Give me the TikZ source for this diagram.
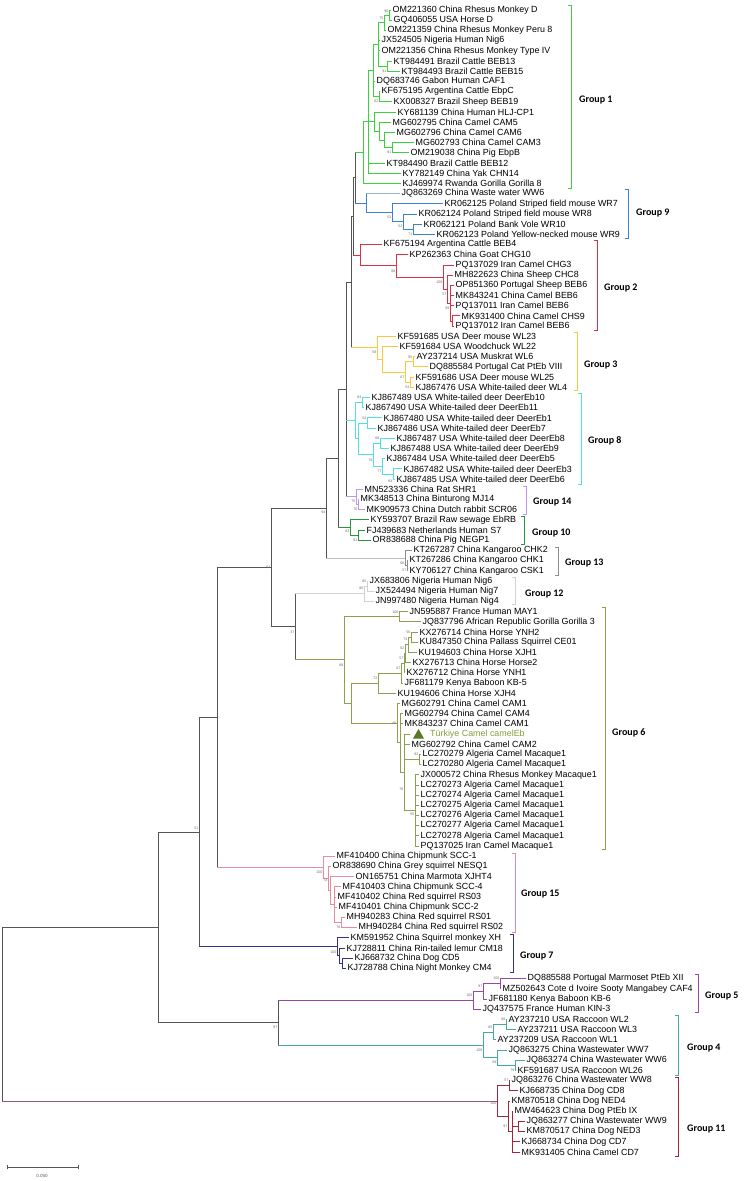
\documentclass[tikz,border=0pt]{standalone}
\usepackage{fontspec}
\setmainfont{Liberation Sans}
\newfontfamily\grpfont{Carlito}
\usetikzlibrary{calc}
\definecolor{cA}{RGB}{60,210,60}
\definecolor{cI}{RGB}{60,130,210}
\definecolor{cIl}{RGB}{150,180,210}
\definecolor{cB}{RGB}{215,50,70}
\definecolor{cC}{RGB}{250,200,60}
\definecolor{cH}{RGB}{80,225,225}
\definecolor{cN}{RGB}{190,150,240}
\definecolor{cJ}{RGB}{40,150,60}
\definecolor{cM}{RGB}{140,140,140}
\definecolor{cMl}{RGB}{190,190,190}
\definecolor{cL}{RGB}{210,210,210}
\definecolor{cF}{RGB}{140,160,80}
\definecolor{cO}{RGB}{230,140,160}
\definecolor{cG}{RGB}{50,50,140}
\definecolor{cE}{RGB}{150,70,170}
\definecolor{cD}{RGB}{70,170,160}
\definecolor{cK}{RGB}{160,40,60}
\definecolor{cKr}{RGB}{150,90,110}
\definecolor{bbc}{RGB}{85,85,85}
\definecolor{bsc}{RGB}{110,110,110}
\definecolor{tric}{RGB}{90,120,40}
\definecolor{tkc}{RGB}{130,160,60}
\tikzset{
  tree/.style={line width=0.8pt, line cap=rect},
  leaf/.style={anchor=west, inner sep=0pt, xshift=1.5pt, font=\fontsize{8.9}{10}\selectfont, text=black},
  bsl/.style={anchor=east, inner sep=0pt, font=\fontsize{3.6}{4}\selectfont, text=bsc},
  grp/.style={anchor=west, inner sep=0pt, font=\grpfont\bfseries\fontsize{10}{12}\selectfont},
}
\newcommand\lf[3]{\coordinate (l#1) at (#2,{10+(#1-1)*10.196}); \node[leaf] (t#1) at (l#1) {#3};}
\newcommand\cln[5]{\path let \p1=(#4), \p2=(#5) in (#2pt,{(\y1+\y2)*0.5}) coordinate (#1); \draw[tree,#3] (#1 |- #4) -- (#1 |- #5);}
\newcommand\ed[3]{\draw[tree,#1] (#2 |- #3) -- (#3);}
\newcommand\cl[5]{\cln{#1}{#2}{#3}{#4}{#5}\ed{#3}{#1}{#4}\ed{#3}{#1}{#5}}
\newcommand\clm[6]{\cl{#1}{#2}{#3}{#4}{#5}\foreach \cc in {#6}{\ed{#3}{#1}{\cc}}}
\newcommand\bs[3]{\node[bsl] (bs#1) at ([xshift=-0.5pt,yshift={-1pt*(#2)}]#1) {#3};}
\newcommand\brk[5]{\draw[tree,#1] (#2-3,#3) coordinate (bt#5) -- (#2,#3) -- (#2,#4) -- (#2-3,#4) coordinate (bb#5);}
\begin{document}
\begin{tikzpicture}[x=1pt,y=-1pt]
\fill[white] (0,0) rectangle (744,1181);
\useasboundingbox (0,0) rectangle (744,1181);
% leaves
\lf{1}{391}{OM221360 China Rhesus Monkey D}
\lf{2}{392}{GQ406055 USA Horse D}
\lf{3}{386}{OM221359 China Rhesus Monkey Peru 8}
\lf{4}{380}{JX524505 Nigeria Human Nig6}
\lf{5}{380}{OM221356 China Rhesus Monkey Type IV}
\lf{6}{392}{KT984491 Brazil Cattle BEB13}
\lf{7}{400}{KT984493 Brazil Cattle BEB15}
\lf{8}{375}{DQ683746 Gabon Human CAF1}
\lf{9}{380}{KF675195 Argentina Cattle EbpC}
\lf{10}{392}{KX008327 Brazil Sheep BEB19}
\lf{11}{396}{KY681139 China Human HLJ-CP1}
\lf{12}{391}{MG602795 China Camel CAM5}
\lf{13}{395}{MG602796 China Camel CAM6}
\lf{14}{414}{MG602793 China Camel CAM3}
\lf{15}{409}{OM219038 China Pig EbpB}
\lf{16}{385}{KT984490 Brazil Cattle BEB12}
\lf{17}{401}{KY782149 China Yak CHN14}
\lf{18}{401}{KJ469974 Rwanda Gorilla Gorilla 8}
\lf{19}{400}{JQ863269 China Waste water WW6}
\lf{20}{443}{KR062125 Poland Striped field mouse WR7}
\lf{21}{417}{KR062124 Poland Striped field mouse WR8}
\lf{22}{422}{KR062121 Poland Bank Vole WR10}
\lf{23}{435}{KR062123 Poland Yellow-necked mouse WR9}
\lf{24}{382}{KF675194 Argentina Cattle BEB4}
\lf{25}{408}{KP262363 China Goat CHG10}
\lf{26}{454}{PQ137029 Iran Camel CHG3}
\lf{27}{453}{MH822623 China Sheep CHC8}
\lf{28}{454}{OP851360 Portugal Sheep BEB6}
\lf{29}{454}{MK843241 China Camel BEB6}
\lf{30}{454}{PQ137011 Iran Camel BEB6}
\lf{31}{460}{MK931400 China Camel CHS9}
\lf{32}{454}{PQ137012 Iran Camel BEB6}
\lf{33}{396}{KF591685 USA Deer mouse WL23}
\lf{34}{398}{KF591684 USA Woodchuck WL22}
\lf{35}{415}{AY237214 USA Muskrat WL6}
\lf{36}{428}{DQ885584 Portugal Cat PtEb VIII}
\lf{37}{414}{KF591686 USA Deer mouse WL25}
\lf{38}{414}{KJ867476 USA White-tailed deer WL4}
\lf{39}{370}{KJ867489 USA White-tailed deer DeerEb10}
\lf{40}{364}{KJ867490 USA White-tailed deer DeerEb11}
\lf{41}{382}{KJ867480 USA White-tailed deer DeerEb1}
\lf{42}{376}{KJ867486 USA White-tailed deer DeerEb7}
\lf{43}{395}{KJ867487 USA White-tailed deer DeerEb8}
\lf{44}{389}{KJ867488 USA White-tailed deer DeerEb9}
\lf{45}{385}{KJ867484 USA White-tailed deer DeerEb5}
\lf{46}{402}{KJ867482 USA White-tailed deer DeerEb3}
\lf{47}{395}{KJ867485 USA White-tailed deer DeerEb6}
\lf{48}{363}{MN523336 China Rat SHR1}
\lf{49}{359}{MK348513 China Binturong MJ14}
\lf{50}{365}{MK909573 China Dutch rabbit SCR06}
\lf{51}{369}{KY593707 Brazil Raw sewage EbRB}
\lf{52}{365}{FJ439683 Netherlands Human S7}
\lf{53}{371}{OR838688 China Pig NEGP1}
\lf{54}{412}{KT267287 China Kangaroo CHK2}
\lf{55}{408}{KT267286 China Kangaroo CHK1}
\lf{56}{408}{KY706127 China Kangaroo CSK1}
\lf{57}{368}{JX683806 Nigeria Human Nig6}
\lf{58}{374}{JX524494 Nigeria Human Nig7}
\lf{59}{374}{JN997480 Nigeria Human Nig4}
\lf{60}{408}{JN595887 France Human MAY1}
\lf{61}{421}{JQ837796 African Republic Gorilla Gorilla 3}
\lf{62}{418}{KX276714 China Horse YNH2}
\lf{63}{418}{KU847350 China Pallass Squirrel CE01}
\lf{64}{417}{KU194603 China Horse XJH1}
\lf{65}{411}{KX276713 China Horse Horse2}
\lf{66}{405}{KX276712 China Horse YNH1}
\lf{67}{403}{JF681179 Kenya Baboon KB-5}
\lf{68}{396}{KU194606 China Horse XJH4}
\lf{69}{400}{MG602791 China Camel CAM1}
\lf{70}{403}{MG602794 China Camel CAM4}
\lf{71}{403}{MK843237 China Camel CAM1}
\coordinate (l72) at (410,{10+71*10.196});
\node[leaf,text=tkc,xshift=18.5pt] (t72) at (l72) {Türkiye Camel camelEb};
\lf{73}{410}{MG602792 China Camel CAM2}
\lf{74}{421}{LC270279 Algeria Camel Macaque1}
\lf{75}{421}{LC270280 Algeria Camel Macaque1}
\lf{76}{419}{JX000572 China Rhesus Monkey Macaque1}
\lf{77}{419}{LC270273 Algeria Camel Macaque1}
\lf{78}{419}{LC270274 Algeria Camel Macaque1}
\lf{79}{419}{LC270275 Algeria Camel Macaque1}
\lf{80}{419}{LC270276 Algeria Camel Macaque1}
\lf{81}{419}{LC270277 Algeria Camel Macaque1}
\lf{82}{419}{LC270278 Algeria Camel Macaque1}
\lf{83}{419}{PQ137025 Iran Camel Macaque1}
\lf{84}{335}{MF410400 China Chipmunk SCC-1}
\lf{85}{331}{OR838690 China Grey squirrel NESQ1}
\lf{86}{354}{ON165751 China Marmota XJHT4}
\lf{87}{341}{MF410403 China Chipmunk SCC-4}
\lf{88}{336}{MF410402 China Red squirrel RS03}
\lf{89}{337}{MF410401 China Chipmunk SCC-2}
\lf{90}{345}{MH940283 China Red squirrel RS01}
\lf{91}{357}{MH940284 China Red squirrel RS02}
\lf{92}{349}{KM591952 China Squirrel monkey XH}
\lf{93}{345}{KJ728811 China Rin-tailed lemur CM18}
\lf{94}{353}{KJ668732 China Dog CD5}
\lf{95}{346}{KJ728788 China Night Monkey CM4}
\lf{96}{526}{DQ885588 Portugal Marmoset PtEb XII}
\lf{97}{501}{MZ502643 Cote d Ivoire Sooty Mangabey CAF4}
\lf{98}{487}{JF681180 Kenya Baboon KB-6}
\lf{99}{481}{JQ437575 France Human KIN-3}
\lf{100}{507}{AY237210 USA Raccoon WL2}
\lf{101}{516}{AY237211 USA Raccoon WL3}
\lf{102}{496}{AY237209 USA Raccoon WL1}
\lf{103}{507}{JQ863275 China Wastewater WW7}
\lf{104}{525}{JQ863274 China Wastewater WW6}
\lf{105}{516}{KF591687 USA Raccoon WL26}
\lf{106}{510}{JQ863276 China Wastewater WW8}
\lf{107}{518}{KJ668735 China Dog CD8}
\lf{108}{510}{KM870518 China Dog NED4}
\lf{109}{513}{MW464623 China Dog PtEb IX}
\lf{110}{525}{JQ863277 China Wastewater WW9}
\lf{111}{525}{KM870517 China Dog NED3}
\lf{112}{520}{KJ668734 China Dog CD7}
\lf{113}{520}{MK931405 China Camel CD7}
\fill[tric] (413,738.5) -- (424,738.5) -- (418.5,729) -- cycle;
% group 1
\cl{A1}{389}{cA}{l1}{l2}
\cl{A2}{384}{cA}{A1}{l3}
\cl{C}{387}{cA}{l6}{l7}
\clm{B}{378}{cA}{A2}{C}{l4,l5}
\cl{E}{379}{cA}{l9}{l10}
\clm{D}{373}{cA}{B}{E}{l8}
\cl{G1}{392}{cA}{l14}{l15}
\cl{G2}{384}{cA}{l13}{G1}
\cl{G3}{379}{cA}{l12}{G2}
\cl{G4}{374}{cA}{l11}{G3}
\clm{F}{368}{cA}{D}{l17}{G4,l16}
\cl{H}{363}{cA}{F}{l18}
% group 9
\cl{I1}{413}{cI}{l22}{l23}
\cl{I2}{403}{cI}{l21}{I1}
\cl{I3}{392}{cI}{l20}{I2}
\cln{I4}{366}{cI}{l19}{I3}\ed{cIl}{I4}{l19}\ed{cI}{I4}{I3}
% group 2
\cl{J6}{452}{cB}{l31}{l32}
\clm{J5}{450}{cB}{l28}{J6}{l29,l30}
\cl{J4}{447}{cB}{l27}{J5}
\cl{J3}{443}{cB}{l26}{J4}
\cl{J2}{396}{cB}{l25}{J3}
\cl{J1}{360}{cB}{l24}{J2}
% group 3
\cl{L4}{413}{cC}{l35}{l36}
\cl{L5}{410}{cC}{l37}{l38}
\cl{L3}{405}{cC}{L4}{L5}
\cl{L2}{382}{cC}{l34}{L3}
\cl{L1}{377}{cC}{l33}{L2}
% group 8
\cl{M1}{362}{cH}{l39}{l40}
\cl{M4}{367}{cH}{l41}{l42}
\cl{M6}{380}{cH}{l43}{l44}
\cl{M8}{393}{cH}{l46}{l47}
\cl{M7}{382}{cH}{l45}{M8}
\cl{M5}{373}{cH}{M6}{M7}
\cl{M3}{358}{cH}{M4}{M5}
\cl{M0}{355}{cH}{M1}{M3}
% group 14
\cl{N1}{358}{cN}{l49}{l50}
\cl{N0}{356}{cN}{l48}{N1}
% group 10
\cl{O1}{358}{cJ}{l52}{l53}
\cl{O0}{350}{cJ}{l51}{O1}
% group 13
\cl{V1}{407}{cM}{l55}{l56}
\cl{V0}{405}{cM}{l54}{V1}
% group 12
\cl{W1}{367}{cL}{l57}{l58}
\cl{W0}{364}{cL}{W1}{l59}
% group 6
\cl{X1}{399}{cF}{l60}{l61}
\cl{X9}{411}{cF}{l62}{l63}
\cl{X8}{408}{cF}{X9}{l64}
\cl{X7}{405}{cF}{X8}{l65}
\cl{X6a}{404}{cF}{X7}{l66}
\cl{X6}{401}{cF}{X6a}{l67}
\cl{X3}{378}{cF}{X6}{l68}
\cl{X13}{419}{cF}{l74}{l75}
\clm{X12}{415}{cF}{l76}{l83}{l77,l78,l79,l80,l81,l82}
\clm{X11}{404}{cF}{l72}{X12}{l73,X13}
\clm{X10}{400}{cF}{l70}{X11}{l71}
\cl{X4}{397}{cF}{l69}{X10}
\cl{X2}{351}{cF}{X3}{X4}
\cl{X0}{344}{cF}{X1}{X2}
% group 15
\cl{AA5}{341}{cO}{l90}{l91}
\clm{AA4}{334}{cO}{l87}{AA5}{l88,l89}
\cl{AA3}{330}{cO}{l86}{AA4}
\cl{AA2}{328}{cO}{l85}{AA3}
\cl{AA1}{323}{cO}{l84}{AA2}
% group 7
\cl{AB2}{342}{cG}{l94}{l95}
\cl{AB1}{339}{cG}{l93}{AB2}
\cl{AB0}{337}{cG}{l92}{AB1}
% group 5
\cl{AC2}{500}{cE}{l96}{l97}
\cl{AC1}{483}{cE}{AC2}{l98}
\cl{AC0}{473}{cE}{AC1}{l99}
% group 4
\cl{AD2}{506}{cD}{l100}{l101}
\cl{AD1}{493}{cD}{AD2}{l102}
\cl{AD4}{515}{cD}{l104}{l105}
\cl{AD3}{497}{cD}{l103}{AD4}
\cl{AD0}{483}{cD}{AD1}{AD3}
% group 11
\cl{AE1}{509}{cK}{l106}{l107}
\cl{AE4}{518}{cK}{l110}{l111}
\clm{AE3}{512}{cK}{l109}{l113}{AE4,l112}
\cl{AE2}{508}{cK}{l108}{AE3}
\cl{AE0}{497}{cK}{AE1}{AE2}
% backbone
\cln{K1}{355}{bbc}{H}{I4}\ed{cA}{K1}{H}\ed{cI}{K1}{I4}
\cln{K2}{353}{bbc}{K1}{J1}\ed{bbc}{K2}{K1}\ed{cB}{K2}{J1}
\cln{R}{351}{bbc}{K2}{L1}\ed{bbc}{R}{K2}\ed{cC}{R}{L1}
\cln{Q}{346}{bbc}{R}{N0}\ed{bbc}{Q}{R}\ed{cH}{Q}{M0}\ed{cN}{Q}{N0}
\cln{S}{338}{bbc}{Q}{O0}\ed{bbc}{S}{Q}\ed{cJ}{S}{O0}
\cln{U}{326}{bbc}{S}{V0}\ed{bbc}{U}{S}\ed{cMl}{U}{V0}
\cln{Y1}{295}{bbc}{W0}{X0}\ed{cL}{Y1}{W0}\ed{cF}{Y1}{X0}
\cln{U2}{271}{bbc}{U}{Y1}\ed{bbc}{U2}{U}\ed{bbc}{U2}{Y1}
\cln{Z1}{217}{bbc}{U2}{AA1}\ed{bbc}{Z1}{U2}\ed{cO}{Z1}{AA1}
\cln{Z2}{199}{bbc}{Z1}{AB0}\ed{bbc}{Z2}{Z1}\ed{cG}{Z2}{AB0}
\cln{Z4}{278}{bbc}{AC0}{AD0}\ed{cE}{Z4}{AC0}\ed{cD}{Z4}{AD0}
\cln{Z3}{158}{bbc}{Z2}{Z4}\ed{bbc}{Z3}{Z2}\ed{bbc}{Z3}{Z4}
\cln{RT}{2}{bbc}{Z3}{AE0}\ed{bbc}{RT}{Z3}\ed{cKr}{RT}{AE0}
% bootstrap values
\bs{A1}{-4}{90}\bs{A2}{-4}{75}\bs{C}{5}{91}\bs{E}{5}{62}\bs{G1}{5}{91}
\bs{I3}{5}{52}\bs{I2}{5}{52}\bs{I1}{5}{71}
\bs{J2}{5}{88}\bs{J3}{5}{100}\bs{J4}{5}{57}\bs{J5}{5}{69}
\bs{L1}{5}{58}\bs{L4}{-5}{85}\bs{L3}{5}{67}\bs{L5}{5}{54}
\bs{M1}{-5}{84}\bs{M4}{-5}{54}\bs{M6}{-5}{68}\bs{M5}{5}{79}\bs{M7}{5}{77}\bs{M8}{7}{64}
\bs{N0}{4}{75}\bs{N1}{5}{70}\bs{O0}{4}{83}\bs{O1}{5}{91}
\bs{V0}{5}{66}\bs{V1}{5}{57}\bs{W1}{-5}{85}\bs{W0}{-5}{80}
\bs{U}{4}{94}\bs{U2}{0}{52}\bs{Y1}{5}{37}\bs{X0}{5}{88}\bs{Z2}{-4}{51}\bs{Z4}{5}{97}
\bs{X1}{-4}{100}\bs{X9}{-5}{56}\bs{X8}{-5}{73}\bs{X7}{-5}{62}\bs{X6a}{-5}{57}\bs{X6}{-5}{67}
\bs{X3}{-5}{72}\bs{X4}{0}{45}\bs{X13}{-5}{92}\bs{X11}{17}{76}\bs{X12}{4}{55}
\bs{AA1}{5}{100}\bs{AA2}{2}{74}\bs{AA5}{5}{76}\bs{AB0}{5}{100}
\bs{AC2}{-5}{100}\bs{AC1}{-5}{97}\bs{AC0}{-5}{100}
\bs{AD2}{-5}{98}\bs{AD1}{-5}{85}\bs{AD0}{5}{100}\bs{AD3}{5}{59}\bs{AD4}{5}{79}
\bs{AE1}{-5}{57}\bs{AE0}{2}{100}\bs{AE2}{10}{97}
% group brackets and labels
\brk{cA}{571}{5}{188}{1}\node[grp] (g1) at (579,100) {Group 1};
\brk{cI}{628}{189}{238}{9}\node[grp] (g9) at (636,213) {Group 9};
\brk{cB}{597}{240}{330}{2}\node[grp] (g2) at (604,288) {Group 2};
\brk{cC}{577}{332}{390}{3}\node[grp] (g3) at (584,365) {Group 3};
\brk{cH}{581}{393}{484}{8}\node[grp] (g8) at (588,441) {Group 8};
\brk{cN}{526}{486}{514}{14}\node[grp] (g14) at (533,502) {Group 14};
\brk{cJ}{524}{516}{544}{10}\node[grp] (g10) at (532,533) {Group 10};
\brk{cM}{558}{547}{575}{13}\node[grp] (g13) at (565,563) {Group 13};
\brk{cL}{515}{577}{604}{12}\node[grp] (g12) at (525,594) {Group 12};
\brk{cF}{605}{607}{849}{6}\node[grp] (g6) at (612,733) {Group 6};
\brk{cO}{515}{853}{932}{15}\node[grp] (g15) at (521,894) {Group 15};
\brk{cG}{513}{934}{972}{7}\node[grp] (g7) at (520,956) {Group 7};
\brk{cE}{698}{974}{1012}{5}\node[grp] (g5) at (705,996) {Group 5};
\brk{cD}{678}{1015}{1075}{4}\node[grp] (g4) at (687,1048) {Group 4};
\brk{cK}{678}{1077}{1156}{11}\node[grp] (g11) at (687,1129) {Group 11};
% scale bar
\coordinate (sb1) at (7,1167); \coordinate (sb2) at (78,1167);
\draw[tree,bbc] (sb1) -- (sb2);
\draw[tree,bbc] ([yshift=2pt]sb1) -- ([yshift=-2pt]sb1);
\draw[tree,bbc] ([yshift=2pt]sb2) -- ([yshift=-2pt]sb2);
\node[inner sep=0pt, font=\fontsize{4.5}{5}\selectfont, text=bbc] (sbl) at (42,1176) {0.050};
\end{tikzpicture}
\end{document}
